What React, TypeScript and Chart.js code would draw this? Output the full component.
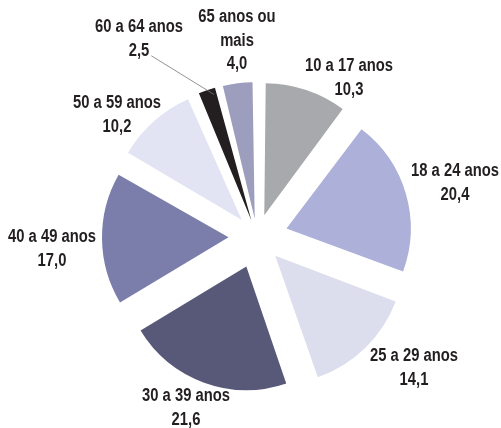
import React, { useEffect, useRef } from "react";
import { Chart, registerables } from "chart.js";

Chart.register(...registerables);

// ---- data ----
const categories = [
  "10 a 17 anos",
  "18 a 24 anos",
  "25 a 29 anos",
  "30 a 39 anos",
  "40 a 49 anos",
  "50 a 59 anos",
  "60 a 64 anos",
  "65 anos ou mais",
];
const values = [10.3, 20.4, 14.1, 21.6, 17.0, 10.2, 2.5, 4.0];
const labelLines = [
  ["10 a 17 anos"],
  ["18 a 24 anos"],
  ["25 a 29 anos"],
  ["30 a 39 anos"],
  ["40 a 49 anos"],
  ["50 a 59 anos"],
  ["60 a 64 anos"],
  ["65 anos ou", "mais"],
];
const colors = [
  "#A7A9AC",
  "#ADB0D8",
  "#DCDEEE",
  "#585879",
  "#7B7EAA",
  "#E3E4F3",
  "#231F20",
  "#9D9EBE",
];

// ---- layout ----
const W = 501;
const H = 428;
const RADIUS = 123;
const EXPLODE = 32; // pixels each slice is pulled out
// label block centres, relative to the pie centre
const labelOffsets: [number, number][] = [
  [92, -159],
  [198, -54],
  [157, 131],
  [-71, 171],
  [-205, 12],
  [-140, -122],
  [-118, -198],
  [-20, -196],
];
const LEADER_INDEX = 6;
const LINE_H = 23.5;
const FONT = "bold 18px 'Liberation Sans', Arial, sans-serif";
const SAMPLE = "10 a 17 anos";
const SAMPLE_W = 88; // condensed width of the sample text
const TEXT_COLOR = "#231F20";

const fmt = (v: number) => v.toFixed(1).replace(".", ",");

const total = values.reduce((a, b) => a + b, 0);
// Chart.js translates an arc by offset/4 * (2 - sin(min(PI, circ))); invert it for a uniform explode
const offsets = values.map((v) => {
  const circ = (v / total) * Math.PI * 2;
  return (4 * EXPLODE) / (2 - Math.sin(Math.min(Math.PI, circ)));
});

const labelPlugin = {
  id: "outsideLabels",
  afterDraw(chart: any) {
    const ctx = chart.ctx as CanvasRenderingContext2D;
    const meta = chart.getDatasetMeta(0);
    const first = meta.data[0];
    const cx = first.x;
    const cy = first.y;
    ctx.save();
    ctx.font = FONT;
    const squeeze = SAMPLE_W / ctx.measureText(SAMPLE).width;
    ctx.fillStyle = TEXT_COLOR;
    ctx.textAlign = "center";
    ctx.textBaseline = "middle";
    const drawText = (t: string, x: number, y: number) => {
      ctx.save();
      ctx.translate(x, y);
      ctx.scale(squeeze, 1);
      ctx.fillText(t, 0, 0);
      ctx.restore();
    };
    values.forEach((v, i) => {
      const lines = [...labelLines[i], fmt(v)];
      const [dx, dy] = labelOffsets[i];
      const bx = cx + dx;
      const by = cy + dy;
      const top = by - ((lines.length - 1) * LINE_H) / 2;
      lines.forEach((ln, k) => drawText(ln, bx, top + k * LINE_H));
      if (i === LEADER_INDEX) {
        const arc = meta.data[i];
        const start = arc.startAngle;
        const end = arc.endAngle;
        const mid = (start + end) / 2;
        const ax = cx + Math.cos(mid) * EXPLODE;
        const ay = cy + Math.sin(mid) * EXPLODE;
        const ang = end - (end - start) * 0.2;
        const ex = ax + Math.cos(ang) * RADIUS * 0.95;
        const ey = ay + Math.sin(ang) * RADIUS * 0.95;
        const valW = ctx.measureText(fmt(v)).width * squeeze;
        const sx = bx + valW / 2 + 2;
        const sy = top + (lines.length - 1) * LINE_H + 5;
        ctx.strokeStyle = "#777777";
        ctx.lineWidth = 0.8;
        ctx.beginPath();
        ctx.moveTo(sx, sy);
        ctx.lineTo(ex, ey);
        ctx.stroke();
      }
    });
    ctx.restore();
  },
};

export default function App() {
  const ref = useRef<HTMLCanvasElement>(null);
  useEffect(() => {
    if (!ref.current) return;
    const chart = new Chart(ref.current, {
      type: "pie",
      data: {
        labels: categories,
        datasets: [
          {
            data: values,
            backgroundColor: colors,
            borderWidth: 0,
            offset: offsets,
          },
        ],
      },
      options: {
        responsive: false,
        animation: false,
        radius: RADIUS,
        layout: { padding: { left: 13, right: 0, top: 46, bottom: 0 } },
        plugins: {
          legend: { display: false },
          tooltip: { enabled: false },
        },
      },
      plugins: [labelPlugin],
    });
    return () => chart.destroy();
  }, []);
  return (
    <canvas
      ref={ref}
      width={W}
      height={H}
      style={{ position: "fixed", left: 0, top: 0, width: W, height: H }}
    />
  );
}
